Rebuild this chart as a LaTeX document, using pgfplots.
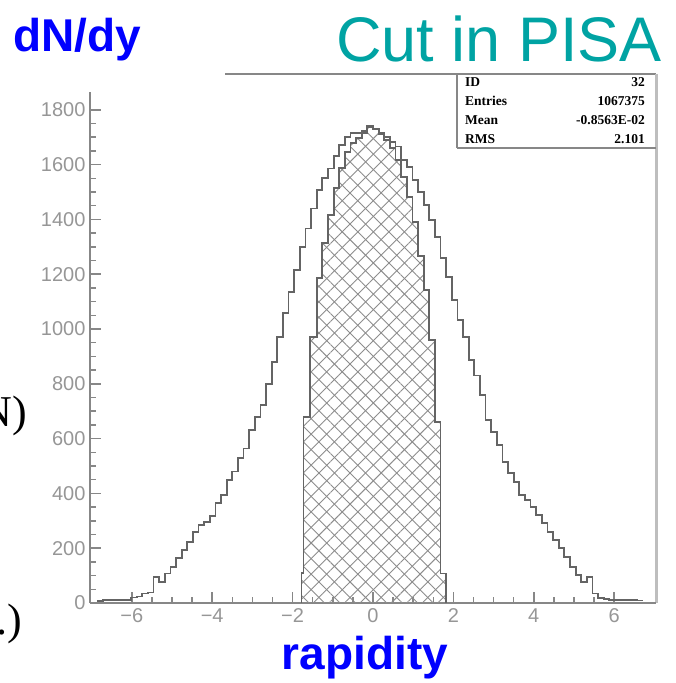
\documentclass[border=0pt]{standalone}
\usepackage{fontspec}
\setmainfont{Liberation Sans}
\newfontfamily\serif{Liberation Serif}
\usepackage{pgfplots}
\pgfplotsset{compat=1.18}
\usetikzlibrary{patterns.meta}

\definecolor{axisgray}{RGB}{135,135,135}
\definecolor{labelgray}{RGB}{150,150,150}
\definecolor{histgray}{RGB}{100,100,100}
\definecolor{hatchgray}{RGB}{140,140,140}
\definecolor{framegray}{RGB}{190,190,190}
\definecolor{titleblue}{RGB}{0,0,255}
\definecolor{titleteal}{RGB}{0,163,163}

\begin{document}
\begin{tikzpicture}
\useasboundingbox (0,0) rectangle (675pt,683pt);
\clip (0,0) rectangle (675pt,683pt);

% slide texts
\node[anchor=base west, inner sep=0, text=titleblue] at (13pt,631pt)
  {\fontsize{46}{46}\selectfont\bfseries dN/dy};
\node[anchor=base east, inner sep=0, text=titleteal] at (662pt,621pt)
  {\fontsize{63}{63}\selectfont Cut in PISA};
\node[anchor=base, inner sep=0, text=titleblue] at (365pt,13pt)
  {\fontsize{46}{46}\selectfont\bfseries rapidity};
\node[anchor=base east, inner sep=0] at (27pt,256pt)
  {\serif\fontsize{44}{44}\selectfont (N)};
\node[anchor=base east, inner sep=0] at (22pt,48pt)
  {\serif\fontsize{44}{44}\selectfont (a.u.)};

% frame pieces of the histogram window
\draw[axisgray, line width=2pt] (225pt,609pt) -- (656pt,609pt);
\draw[framegray, line width=3pt] (656pt,609pt) -- (656pt,80pt);
\draw[axisgray, line width=1.2pt] (457pt,609pt) -- (457pt,535pt);
\draw[axisgray, line width=2.2pt] (457pt,535pt) -- (656pt,535pt);

% stats box
\begin{scope}[every node/.style={inner sep=0, font=\serif\bfseries\fontsize{13.5}{13.5}\selectfont}]
\node[anchor=base west] at (465pt,596pt) {ID};
\node[anchor=base east] at (645pt,596pt) {32};
\node[anchor=base west] at (465pt,577pt) {Entries};
\node[anchor=base east] at (645pt,577pt) {1067375};
\node[anchor=base west] at (465pt,558pt) {Mean};
\node[anchor=base east] at (645pt,558pt) {-0.8563E-02};
\node[anchor=base west] at (465pt,539pt) {RMS};
\node[anchor=base east] at (645pt,539pt) {2.101};
\end{scope}

\begin{axis}[
  at={(90pt,80pt)}, anchor=south west,
  scale only axis, width=566pt, height=511pt,
  xmin=-7.04, xmax=7.04, ymin=0, ymax=1865,
  axis x line*=bottom, axis y line*=left,
  axis line style={draw=axisgray, line width=2pt, -},
  xtick={-6,-4,-2,0,2,4,6},
  xticklabels={−6,−4,−2,0,2,4,6},
  ytick={0,200,...,1800},
  minor x tick num=3, minor y tick num=3,
  tick align=inside,
  major tick length=11pt, minor tick length=6pt,
  tick style={draw=axisgray, line width=1.5pt},
  ticklabel style={font=\fontsize{20}{20}\selectfont, text=labelgray},
  yticklabel style={xshift=-1pt},
  xticklabel style={yshift=-2pt},
  /pgf/number format/assume math mode=true,
  /pgf/number format/1000 sep={},
]
% hatched (cut) histogram
\addplot[const plot, mark=none, draw=none,
  pattern={Lines[angle=45,distance=11pt,line width=0.9pt]}, pattern color=hatchgray]
  coordinates {
  (-1.78,110)(-1.73,680)(-1.56,972)(-1.40,1186)(-1.26,1313)(-1.12,1416)
  (-0.98,1514)(-0.84,1587)(-0.70,1646)(-0.56,1679)(-0.42,1697)(-0.28,1715)
  (-0.14,1738)(0.00,1730)(0.14,1712)(0.28,1690)(0.42,1660)(0.56,1617)
  (0.70,1556)(0.84,1483)(0.98,1390)(1.12,1267)(1.26,1142)(1.40,960)
  (1.54,661)(1.68,108)(1.82,0)
  } \closedcycle;
\addplot[const plot, mark=none, draw=none,
  pattern={Lines[angle=-45,distance=11pt,line width=0.9pt]}, pattern color=hatchgray]
  coordinates {
  (-1.78,110)(-1.73,680)(-1.56,972)(-1.40,1186)(-1.26,1313)(-1.12,1416)
  (-0.98,1514)(-0.84,1587)(-0.70,1646)(-0.56,1679)(-0.42,1697)(-0.28,1715)
  (-0.14,1738)(0.00,1730)(0.14,1712)(0.28,1690)(0.42,1660)(0.56,1617)
  (0.70,1556)(0.84,1483)(0.98,1390)(1.12,1267)(1.26,1142)(1.40,960)
  (1.54,661)(1.68,108)(1.82,0)
  } \closedcycle;
\addplot[const plot, mark=none, draw=histgray, line width=1.8pt]
  coordinates {
  (-1.78,0)(-1.78,110)(-1.73,680)(-1.56,972)(-1.40,1186)(-1.26,1313)(-1.12,1416)
  (-0.98,1514)(-0.84,1587)(-0.70,1646)(-0.56,1679)(-0.42,1697)(-0.28,1715)
  (-0.14,1738)(0.00,1730)(0.14,1712)(0.28,1690)(0.42,1660)(0.56,1617)
  (0.70,1556)(0.84,1483)(0.98,1390)(1.12,1267)(1.26,1142)(1.40,960)
  (1.54,661)(1.68,108)(1.82,0)
  };
% full histogram
\addplot[const plot, mark=none, draw=histgray, line width=1.8pt]
  coordinates {
  (-6.86,8)(-6.72,10)(-6.58,10)(-6.44,11)(-6.30,10)(-6.16,12)
  (-6.02,20)(-5.88,24)(-5.74,35)(-5.60,38)(-5.46,96)(-5.32,78)(-5.18,108)
  (-5.04,132)(-4.90,163)(-4.76,193)(-4.62,224)(-4.48,260)(-4.34,285)
  (-4.20,295)(-4.06,318)(-3.92,365)(-3.78,394)(-3.64,449)(-3.50,480)
  (-3.36,528)(-3.22,564)(-3.08,631)(-2.94,680)(-2.80,723)(-2.66,800)
  (-2.52,881)(-2.38,972)(-2.24,1057)(-2.10,1136)(-1.96,1215)(-1.82,1300)
  (-1.68,1367)(-1.54,1440)(-1.40,1507)(-1.26,1550)(-1.12,1586)(-0.98,1632)
  (-0.84,1672)(-0.70,1702)(-0.56,1714)(-0.42,1716)(-0.28,1722)(-0.14,1740)
  (0.00,1732)(0.14,1715)(0.28,1700)(0.42,1682)(0.56,1666)(0.70,1617)
  (0.84,1592)(0.98,1544)(1.12,1501)(1.26,1453)(1.40,1398)(1.54,1337)
  (1.68,1258)(1.82,1191)(1.96,1106)(2.10,1033)(2.24,972)(2.38,887)
  (2.52,830)(2.66,759)(2.80,668)(2.94,625)(3.08,577)(3.22,516)
  (3.36,473)(3.50,443)(3.64,394)(3.78,376)(3.92,351)(4.06,321)
  (4.20,291)(4.34,260)(4.48,230)(4.62,200)(4.76,169)(4.90,132)
  (5.04,102)(5.18,78)(5.32,96)(5.46,35)(5.60,17)(5.74,15)(5.88,11)
  (6.02,10)(6.16,10)(6.30,11)(6.44,10)(6.58,9)(6.72,9)
  };
\end{axis}
\end{tikzpicture}
\end{document}
